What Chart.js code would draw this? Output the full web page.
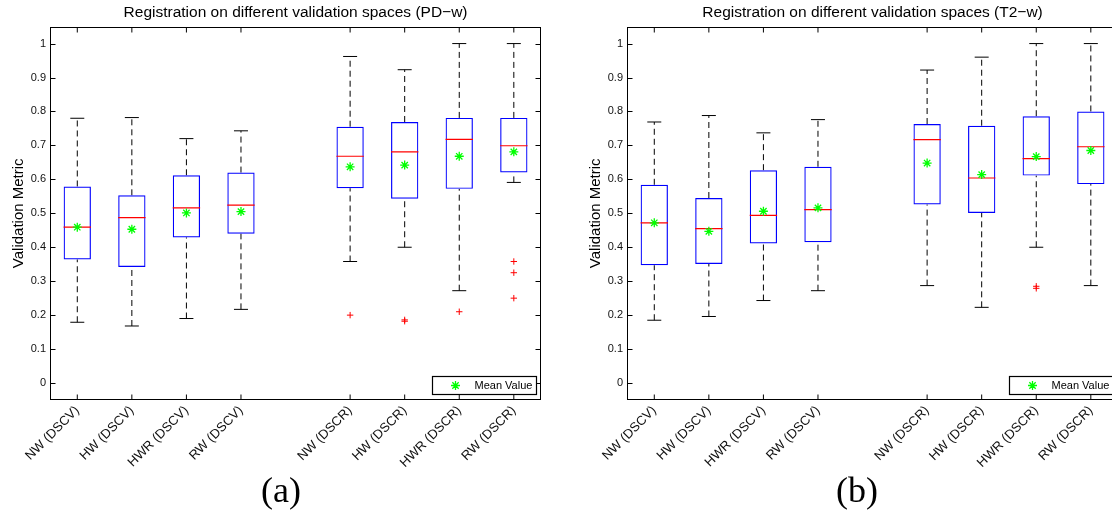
<!DOCTYPE html>
<html>
<head>
<meta charset="utf-8">
<script src="https://cdn.jsdelivr.net/npm/chart.js@4.4.0/dist/chart.umd.min.js"></script>
<style>
  html, body { margin: 0; padding: 0; background: #fff; overflow: hidden; }
  body { width: 1112px; height: 517px; position: relative; }
  canvas { position: absolute; top: 0; }
  #pd { left: 0; }
  #t2 { left: 577px; }
  .cap { position: absolute; top: 469px; font: 36px "Liberation Serif", "DejaVu Serif", serif; color: #000; line-height: 42px; }
</style>
</head>
<body>
<canvas id="pd" width="556" height="480"></canvas>
<canvas id="t2" width="556" height="480"></canvas>
<div class="cap" style="left:261px">(a)</div>
<div class="cap" style="left:836px">(b)</div>
<script>
// ---------- data ----------
const categories = ["NW (DSCV)", "HW (DSCV)", "HWR (DSCV)", "RW (DSCV)",
                    "NW (DSCR)", "HW (DSCR)", "HWR (DSCR)", "RW (DSCR)"];
// empty slot between the two groups
const axisLabels = [...categories.slice(0, 4), "", ...categories.slice(4)];
const yTicks = [0, 0.1, 0.2, 0.3, 0.4, 0.5, 0.6, 0.7, 0.8, 0.9, 1];
const yLabel = "Validation Metric";
const legendText = "Mean Value";

// PD-w
const pdLower    = [0.179, 0.168, 0.190, 0.217, 0.358, 0.400, 0.272, 0.591];
const pdQ1       = [0.364, 0.342, 0.429, 0.440, 0.574, 0.543, 0.572, 0.620];
const pdMedian   = [0.459, 0.487, 0.516, 0.524, 0.668, 0.681, 0.718, 0.699];
const pdQ3       = [0.579, 0.553, 0.612, 0.620, 0.755, 0.769, 0.781, 0.781];
const pdUpper    = [0.780, 0.782, 0.720, 0.743, 0.962, 0.923, 1.000, 1.000];
const pdMean     = [0.459, 0.453, 0.501, 0.505, 0.637, 0.642, 0.668, 0.681];
const pdOutliers = [[], [], [], [], [0.200], [0.186, 0.182], [0.210], [0.358, 0.325, 0.250]];

// T2-w
const t2Lower    = [0.185, 0.196, 0.243, 0.272, 0.287, 0.223, 0.400, 0.287];
const t2Q1       = [0.347, 0.351, 0.411, 0.415, 0.526, 0.501, 0.611, 0.586];
const t2Median   = [0.472, 0.455, 0.494, 0.511, 0.717, 0.604, 0.661, 0.696];
const t2Q3       = [0.584, 0.545, 0.627, 0.637, 0.763, 0.758, 0.786, 0.800];
const t2Upper    = [0.769, 0.788, 0.737, 0.776, 0.922, 0.960, 1.000, 1.000];
const t2Mean     = [0.472, 0.447, 0.506, 0.516, 0.648, 0.614, 0.667, 0.685];
const t2Outliers = [[], [], [], [], [], [], [0.285, 0.279], []];

Chart.defaults.font.family = '"Liberation Sans", Arial, Helvetica, sans-serif';
Chart.defaults.color = "#000";

// ---------- build box plot pieces out of the arrays ----------
function boxDatasets(lower, q1, median, q3, upper, mean, outliers) {
  const boxes = [], whiskers = [], caps = [], medians = [], means = [], outs = [];
  categories.forEach((c, i) => {
    boxes.push({ x: c, y: [q1[i], q3[i]] });
    whiskers.push({ x: c, y: lower[i] }, { x: c, y: q1[i] }, { x: c, y: null },
                  { x: c, y: q3[i] }, { x: c, y: upper[i] }, { x: c, y: null });
    caps.push({ x: c, y: lower[i] }, { x: c, y: upper[i] });
    medians.push({ x: c, y: median[i] });
    means.push({ x: c, y: mean[i] });
    outliers[i].forEach((v) => outs.push({ x: c, y: v }));
  });
  // first dataset ends up on top
  return [
    { type: "line", label: legendText, data: means, showLine: false,
      pointStyle: "star", pointRadius: 4.5, pointBorderColor: "#00ff00", pointBorderWidth: 1.3 },
    { type: "line", label: "outliers", data: outs, showLine: false,
      pointStyle: "cross", pointRadius: 3.2, pointBorderColor: "#ff0000", pointBorderWidth: 1 },
    { type: "line", label: "median", data: medians, showLine: false,
      pointStyle: "line", pointRadius: 13.7, pointBorderColor: "#ff0000", pointBorderWidth: 1.2 },
    { type: "bar", label: "box", data: boxes, backgroundColor: "rgba(0,0,0,0)",
      borderColor: "#0000ff", borderWidth: 1.2, borderSkipped: false,
      barPercentage: 0.5, categoryPercentage: 1 },
    { type: "line", label: "whisker", data: whiskers, spanGaps: false,
      borderColor: "#000", borderWidth: 1, borderDash: [6, 4], pointRadius: 0 },
    { type: "line", label: "caps", data: caps, showLine: false,
      pointStyle: "line", pointRadius: 7, pointBorderColor: "#000", pointBorderWidth: 1 },
  ];
}

// matlab style frame, inward ticks and the little legend
const matlabAxes = {
  id: "matlabAxes",
  afterDraw(chart) {
    const { ctx, chartArea: a, scales: { x, y } } = chart;
    const L = Math.round(a.left) + 0.5, R = Math.round(a.right) - 0.5;
    const T = Math.round(a.top) + 0.5, B = Math.round(a.bottom) - 0.5;
    ctx.save();
    ctx.strokeStyle = "#000";
    ctx.lineWidth = 1;
    ctx.beginPath();
    x.ticks.forEach((t, i) => {
      if (!axisLabels[i]) return;
      const px = x.getPixelForTick(i);
      ctx.moveTo(px, B); ctx.lineTo(px, B - 5);
      ctx.moveTo(px, T); ctx.lineTo(px, T + 5);
    });
    y.ticks.forEach((t) => {
      const py = Math.round(y.getPixelForValue(t.value)) + 0.5;
      ctx.moveTo(L, py); ctx.lineTo(L + 5, py);
      ctx.moveTo(R, py); ctx.lineTo(R - 5, py);
    });
    ctx.stroke();
    ctx.strokeRect(L, T, R - L, B - T);

    // legend box in the lower right corner
    const lx = Math.round(a.right) - 109 + 0.5, ly = Math.round(a.bottom) - 24 + 0.5;
    ctx.fillStyle = "#fff";
    ctx.fillRect(lx, ly, 104, 18);
    ctx.lineWidth = 1.2;
    ctx.strokeRect(lx, ly, 104, 18);
    const sx = lx + 23, sy = ly + 9, r = 4.5, d = r * Math.SQRT1_2;
    ctx.strokeStyle = "#00ff00";
    ctx.lineWidth = 1.3;
    ctx.beginPath();
    ctx.moveTo(sx - r, sy); ctx.lineTo(sx + r, sy);
    ctx.moveTo(sx, sy - r); ctx.lineTo(sx, sy + r);
    ctx.moveTo(sx - d, sy - d); ctx.lineTo(sx + d, sy + d);
    ctx.moveTo(sx - d, sy + d); ctx.lineTo(sx + d, sy - d);
    ctx.stroke();
    ctx.fillStyle = "#000";
    ctx.font = '11px "Liberation Sans", Arial, sans-serif';
    ctx.textBaseline = "middle";
    ctx.fillText(legendText, lx + 42, sy + 0.5);
    ctx.restore();
  },
};

function makeChart(id, title, datasets) {
  return new Chart(document.getElementById(id), {
    type: "bar",
    data: { labels: axisLabels, datasets },
    options: {
      responsive: false,
      animation: false,
      events: [],
      layout: { padding: { left: 0, right: 14, top: 0, bottom: 0 } },
      plugins: {
        legend: { display: false },
        tooltip: { enabled: false },
        title: {
          display: true, text: title, fullSize: false, color: "#000",
          font: { size: 15.5, weight: "normal" }, padding: { top: 3, bottom: 5 },
        },
      },
      scales: {
        x: {
          grid: { display: false, drawTicks: false },
          border: { display: false },
          ticks: { autoSkip: false, maxRotation: 45, minRotation: 45, color: "#111",
                   font: { size: 13 }, padding: 3 },
          afterFit: (s) => { s.height = 80; },
        },
        y: {
          min: -0.05,
          max: 1.05,
          grid: { display: false, drawTicks: false },
          border: { display: false },
          afterBuildTicks: (s) => { s.ticks = yTicks.map((v) => ({ value: v })); },
          ticks: { color: "#111", font: { size: 11 }, padding: 4, callback: (v) => String(v) },
          title: { display: true, text: yLabel, color: "#000", font: { size: 15 }, padding: { top: 10 } },
          afterFit: (s) => { s.width = 50; },
        },
      },
    },
    plugins: [matlabAxes],
  });
}

makeChart("pd", "Registration on different validation spaces (PD\u2212w)",
  boxDatasets(pdLower, pdQ1, pdMedian, pdQ3, pdUpper, pdMean, pdOutliers));
makeChart("t2", "Registration on different validation spaces (T2\u2212w)",
  boxDatasets(t2Lower, t2Q1, t2Median, t2Q3, t2Upper, t2Mean, t2Outliers));
</script>
</body>
</html>
